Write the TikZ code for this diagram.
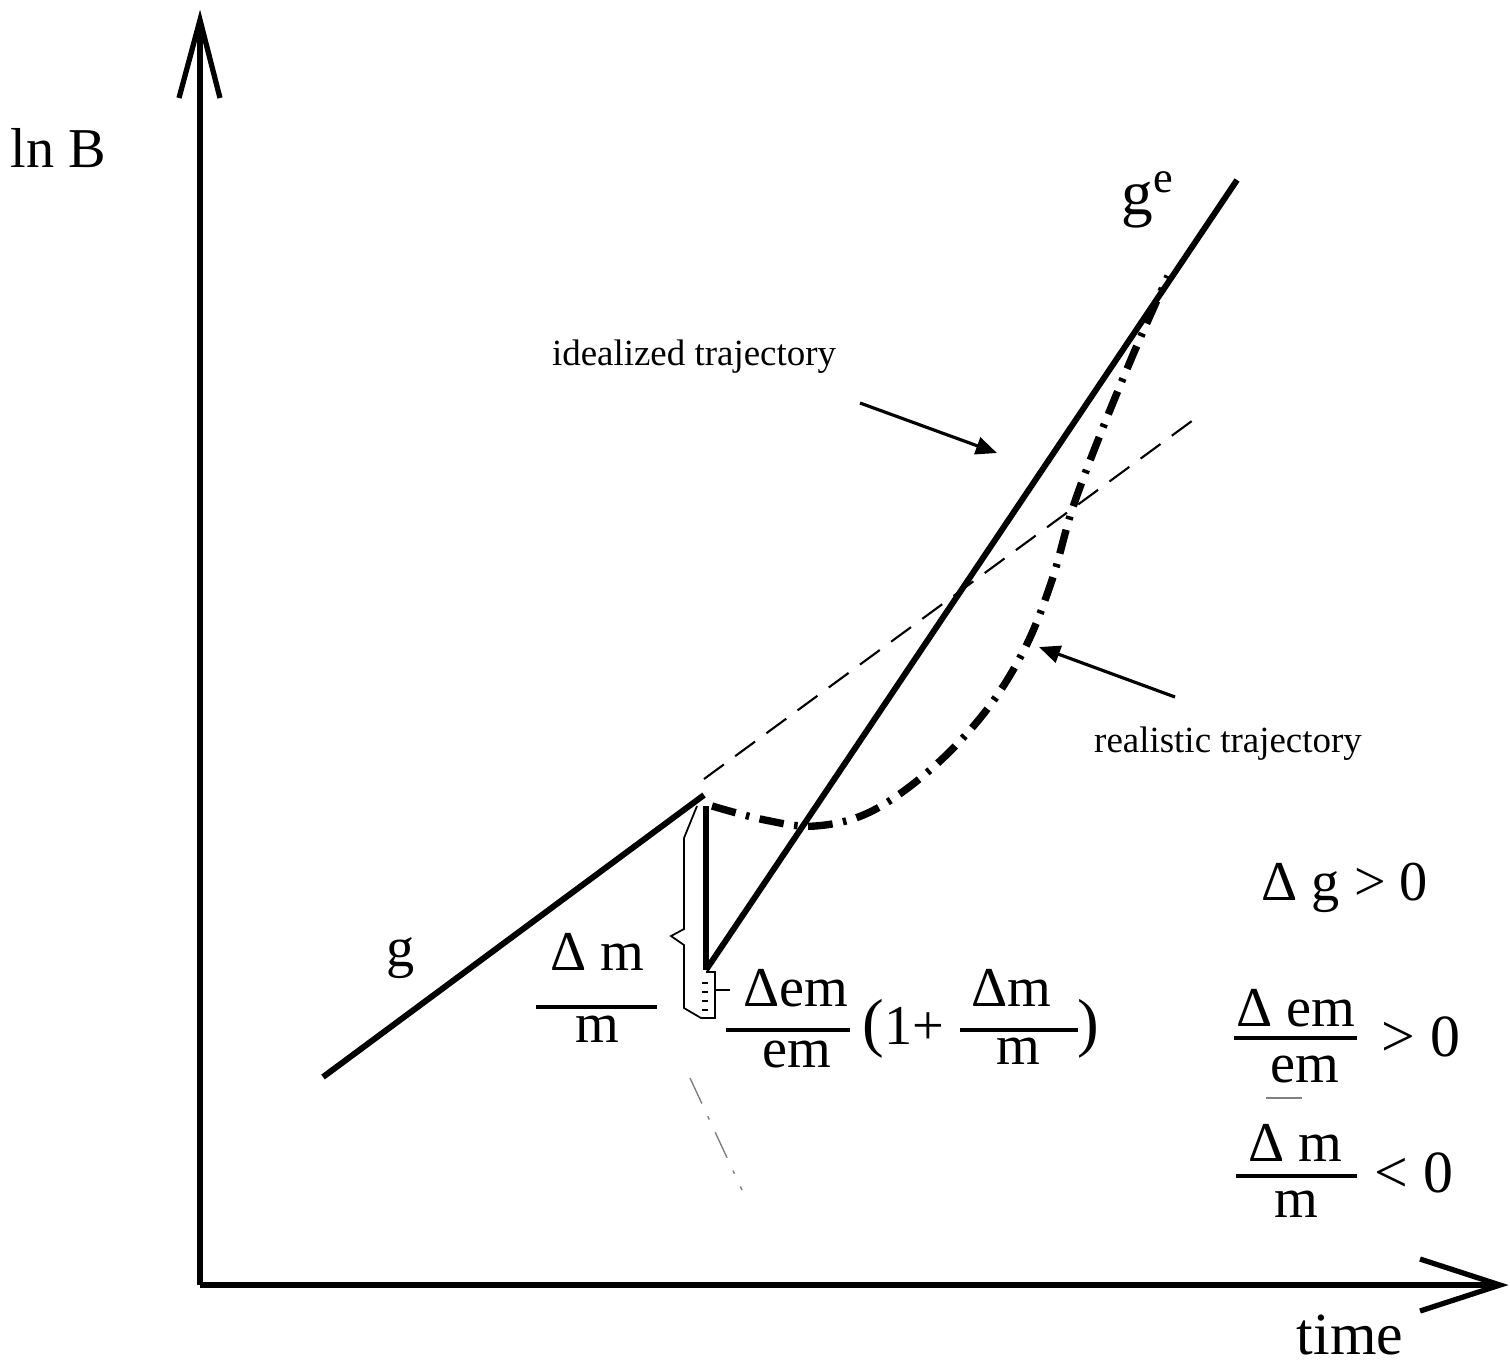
\documentclass[tikz,border=0pt]{standalone}
\usepackage{fontspec}
\setmainfont{Liberation Serif}
\usetikzlibrary{arrows.meta}
\begin{document}
\begin{tikzpicture}[x=0.01cm,y=-0.01cm,
  axisline/.style={line width=1.5pt},
  mainline/.style={line width=1.7pt},
  guide/.style={line width=0.6pt, dash pattern=on 7pt off 4pt},
  realistic/.style={line width=2.1pt, dash pattern=on 7pt off 3pt on 1pt off 3pt},
  pointer/.style={line width=0.9pt, -{Triangle[length=6pt,width=5pt]}},
  thin outline/.style={line width=0.5pt},
  fracbar/.style={line width=1.2pt},
  big/.style={font=\fontsize{16}{19}\selectfont, inner sep=0pt},
  bigger/.style={font=\fontsize{17}{20}\selectfont, inner sep=0pt},
  paren/.style={font=\fontsize{18.5}{20}\selectfont, inner sep=0pt},
  small/.style={font=\fontsize{10.5}{12}\selectfont, inner sep=0pt}]
\useasboundingbox (0,0) rectangle (1510,1363);

% axes
\coordinate (O) at (200,1285);
\coordinate (Ytip) at (200,20);
\coordinate (Xtip) at (1500,1285);
\draw[axisline] (O) -- (Ytip);
\draw[axisline] (O) -- (Xtip);
\draw[axisline, line join=miter] (179,98) -- (Ytip) -- (220,98);
\draw[axisline, line join=miter] (1420,1259) -- (Xtip) -- (1420,1311);

% labels on axes
\node[big, anchor=west] (lnB) at (10,148) {ln B};
\node[bigger, anchor=base] (time) at (1350,1354) {time};

% trajectories
\coordinate (gstart) at (323,1077);
\coordinate (gend) at (704,795);
\coordinate (vtop) at (706,806);
\coordinate (vbot) at (706,970);
\coordinate (etop) at (1237,180);
\coordinate (dstart) at (704,779);
\coordinate (dend) at (1200,415);
\draw[mainline] (gstart) -- (gend);
\draw[mainline] (vtop) -- (vbot);
\draw[mainline] (vbot) -- (etop);
\draw[guide] (dstart) -- (dend);
\draw[realistic] plot[smooth, tension=0.6] coordinates {(712,806) (765,820) (815,826) (870,812) (930,770) (985,712) (1025,648) (1052,580) (1072,510) (1100,435) (1135,350) (1168,276)};

% labels
\node[big] (g) at (401,958) {g};
\node[big, font=\fontsize{18}{20}\selectfont] (ge) at (1148,200) {g\textsuperscript{e}};
\node[small] (ideal) at (694,357) {idealized trajectory};
\node[small] (real) at (1228,744) {realistic trajectory};
\coordinate (ia) at (860,403);
\coordinate (ib) at (997,453);
\coordinate (ra) at (1175,697);
\coordinate (rb) at (1039,647);
\draw[pointer] (ia) -- (ib);
\draw[pointer] (ra) -- (rb);

% brace-like outline
\draw[thin outline] (697,806) -- (684,838) -- (684,929) -- (671,936) -- (684,945) -- (684,1008) -- (701,1018) -- (715,1018) -- (715,972) -- (706,972);
\draw[thin outline] (715,990) -- (730,990);
\foreach \yy in {983,992,1001,1010} \draw[line width=0.6pt] (702,\yy) -- (708,\yy);

% left fraction  Delta m / m
\node[big, anchor=base] (dmN) at (597,970) {Δ m};
\draw[fracbar] (536,1007) -- (657,1007);
\node[big, anchor=base] (dmD) at (597,1042) {m};

% formula  Delta em / em (1+ Delta m / m)
\node[big, anchor=base] (feN) at (796,1006) {Δem};
\draw[fracbar] (726,1030) -- (850,1030);
\node[big, anchor=base] (feD) at (797,1067) {em};
\node[anchor=base west, inner sep=0pt] (fop) at (862,1044) {\fontsize{18.5}{20}\selectfont(\fontsize{16}{19}\selectfont 1+};
\node[big, anchor=base] (fmN) at (1011,1006) {Δm};
\draw[fracbar] (960,1030) -- (1078,1030);
\node[big, anchor=base] (fmD) at (1018,1064) {m};
\node[paren, anchor=base west] (fcl) at (1077,1044) {)};

% conditions
\node[big, anchor=base west] (c1) at (1261,900) {Δ g > 0};

\node[big, anchor=base] (c2N) at (1296,1026) {Δ em};
\draw[fracbar] (1234,1038) -- (1357,1038);
\node[big, anchor=base] (c2D) at (1305,1082) {em};
\node[bigger, anchor=base west] (c2R) at (1381,1056) {> 0};
\draw[line width=0.5pt, gray] (1266,1098) -- (1302,1098);

\node[big, anchor=base] (c3N) at (1295,1161) {Δ m};
\draw[fracbar] (1236,1176) -- (1357,1176);
\node[big, anchor=base] (c3D) at (1296,1217) {m};
\node[bigger, anchor=base west] (c3R) at (1374,1192) {< 0};

% faint mark
\draw[line width=0.4pt, gray, dash pattern=on 8pt off 4pt on 1pt off 4pt] (690,1078) -- (742,1190);
\end{tikzpicture}
\end{document}
